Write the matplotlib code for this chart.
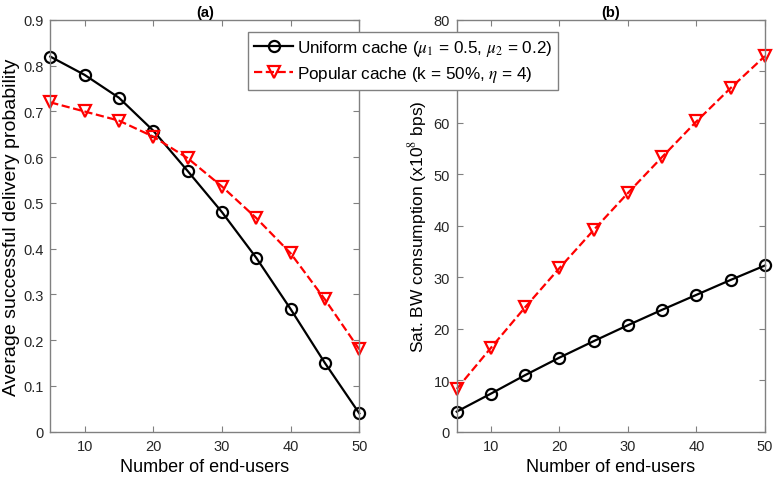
import numpy as np
import matplotlib.pyplot as plt
from matplotlib.ticker import FixedLocator

plt.rcParams['font.family'] = ['Liberation Sans', 'DejaVu Sans']
plt.rcParams['mathtext.fontset'] = 'stix'

users = [5, 10, 15, 20, 25, 30, 35, 40, 45, 50]

prob_uniform = [0.82, 0.78, 0.73, 0.658, 0.57, 0.48, 0.38, 0.268, 0.15, 0.04]
prob_popular = [0.72, 0.70, 0.68, 0.645, 0.598, 0.536, 0.467, 0.39, 0.289, 0.18]

bw_uniform = [3.9, 7.4, 11.0, 14.4, 17.6, 20.7, 23.7, 26.6, 29.5, 32.3]
bw_popular = [8.3, 16.3, 24.2, 31.8, 39.2, 46.4, 53.4, 60.3, 66.8, 73.0]

# 70 is hidden behind the legend in the original
bw_ticks = [0, 10, 20, 30, 40, 50, 60, 70, 80]
bw_ticklabels = ['0', '10', '20', '30', '40', '50', '60', '', '80']

lab_uniform = r'Uniform cache ($\mu_1$ = 0.5, $\mu_2$ = 0.2)'
lab_popular = r'Popular cache (k = 50%, $\eta$ = 4)'

W, H = 773, 481
fig = plt.figure(figsize=(W/100, H/100), dpi=100)
ax1 = fig.add_axes([50.3/W, 1-432.7/H, 309/W, 411.7/H])
ax2 = fig.add_axes([456.7/W, 1-432.7/H, 308.3/W, 411.7/H])

axcol = '#808080'
txtcol = '#262626'

def style(ax):
    for s in ax.spines.values():
        s.set_color(axcol)
        s.set_linewidth(1.0)
    ax.tick_params(direction='in', which='both', top=True, right=True,
                   colors=axcol, labelcolor=txtcol, labelsize=10.5, length=4, pad=5)
    ax.set_xlim(5, 50)
    ax.xaxis.set_major_locator(FixedLocator([10, 20, 30, 40, 50]))
    ax.set_xlabel('Number of end-users', fontsize=13, color='black', labelpad=4)

ax1.plot(users, prob_uniform, '-o', color='black', lw=1.6, ms=8,
         mfc='none', mew=1.6, label=lab_uniform, clip_on=False)
ax1.plot(users, prob_popular, '--v', color='red', lw=1.6, ms=8,
         mfc='none', mew=1.6, label=lab_popular, clip_on=False)
style(ax1)
ax1.set_ylim(0, 0.9)
ax1.set_yticks(np.arange(0, 0.91, 0.1))
ax1.set_yticklabels(['0'] + ['%.1f' % v for v in np.arange(0.1, 0.91, 0.1)])
ax1.set_ylabel('Average successful delivery probability', fontsize=14, labelpad=2)
ax1.set_title('(a)', fontsize=10.5, fontweight='bold', pad=3)

ax2.plot(users, bw_uniform, '-o', color='black', lw=1.6, ms=8,
         mfc='none', mew=1.6, clip_on=False)
ax2.plot(users, bw_popular, '--v', color='red', lw=1.6, ms=8,
         mfc='none', mew=1.6, clip_on=False)
style(ax2)
ax2.set_ylim(0, 80)
ax2.set_yticks(bw_ticks)
ax2.set_yticklabels(bw_ticklabels)
ax2.set_ylabel(r'Sat. BW consumption (x10$^8$ bps)', fontsize=12.5, labelpad=3)
ax2.set_title('(b)', fontsize=10.5, fontweight='bold', pad=3)

h, l = ax1.get_legend_handles_labels()
leg = fig.legend(h, l, loc='upper left', bbox_to_anchor=(248/W, 1-33/H),
                 fontsize=12.3, frameon=True, fancybox=False, framealpha=1,
                 edgecolor=axcol, handlelength=2.3, handletextpad=0.2,
                 borderpad=0.35, labelspacing=0.35, borderaxespad=0)
leg.get_frame().set_linewidth(1.0)

plt.savefig('out.png', dpi=100)
